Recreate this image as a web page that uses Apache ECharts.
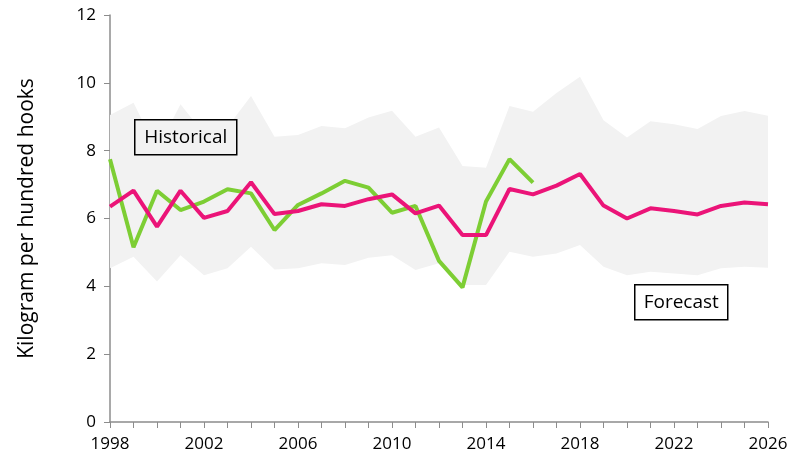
<!DOCTYPE html>
<html>
<head>
<meta charset="utf-8">
<script src="https://cdn.jsdelivr.net/npm/echarts@6/dist/echarts.min.js"></script>
<style>
  html, body { margin: 0; padding: 0; background: #fff; }
  #chart { width: 809px; height: 467px; }
</style>
</head>
<body>
<div id="chart"></div>
<script>
// years 1998..2026
const years = [];
for (let y = 1998; y <= 2026; y++) years.push(String(y));

// historical CPUE (1998-2016)
const historical = [7.75, 5.15, 6.82, 6.25, 6.5, 6.86, 6.74, 5.66, 6.4, 6.74,
  7.11, 6.91, 6.17, 6.37, 4.75, 3.97, 6.5, 7.75, 7.06];

// model / forecast line (1998-2026)
const forecast = [6.35, 6.82, 5.76, 6.82, 6.02, 6.22, 7.07, 6.13, 6.22, 6.42,
  6.37, 6.57, 6.71, 6.15, 6.38, 5.51, 5.51, 6.87, 6.71, 6.97,
  7.31, 6.38, 6.0, 6.3, 6.22, 6.12, 6.37, 6.47, 6.42];

// uncertainty band
const bandLower = [4.53, 4.87, 4.14, 4.92, 4.33, 4.53, 5.17, 4.5, 4.53, 4.68,
  4.63, 4.84, 4.92, 4.48, 4.68, 4.04, 4.04, 5.02, 4.87, 4.97,
  5.22, 4.58, 4.33, 4.43, 4.38, 4.33, 4.53, 4.58, 4.55];
const bandUpper = [9.05, 9.41, 8.02, 9.37, 8.5, 8.7, 9.61, 8.41, 8.46, 8.73,
  8.66, 8.98, 9.18, 8.41, 8.68, 7.55, 7.5, 9.32, 9.15, 9.7,
  10.18, 8.9, 8.39, 8.87, 8.78, 8.64, 9.02, 9.17, 9.03];

const yTicks = [0, 2, 4, 6, 8, 10, 12];

const font = '"Open Sans", "Noto Sans", sans-serif';
const axisGrey = '#8c8c8c';

const chart = echarts.init(document.getElementById('chart'));
chart.setOption({
  animation: false,
  grid: { left: 110, right: 41, top: 15, bottom: 45 },
  xAxis: {
    type: 'category',
    data: years,
    boundaryGap: false,
    axisLine: { lineStyle: { color: axisGrey, width: 1.5 } },
    axisTick: { show: true, interval: 0, length: 6, lineStyle: { color: axisGrey } },
    axisLabel: { interval: 3, color: '#000', fontFamily: font, fontSize: 17, margin: 14 },
    splitLine: { show: false }
  },
  yAxis: {
    type: 'value',
    min: yTicks[0],
    max: yTicks[yTicks.length - 1],
    interval: 2,
    name: 'Kilogram per hundred hooks',
    nameLocation: 'middle',
    nameGap: 72,
    nameTextStyle: { color: '#000', fontFamily: font, fontSize: 21 },
    axisLine: { show: true, lineStyle: { color: axisGrey, width: 1.5 } },
    axisTick: { show: true, length: 6, lineStyle: { color: axisGrey } },
    axisLabel: { color: '#000', fontFamily: font, fontSize: 17, margin: 14 },
    splitLine: { show: false }
  },
  series: [
    {
      name: 'bandBase',
      type: 'line',
      stack: 'band',
      data: bandLower,
      symbol: 'none',
      lineStyle: { opacity: 0 },
      silent: true
    },
    {
      name: 'band',
      type: 'line',
      stack: 'band',
      data: bandUpper.map((v, i) => +(v - bandLower[i]).toFixed(2)),
      symbol: 'none',
      lineStyle: { opacity: 0 },
      areaStyle: { color: '#f2f2f2', opacity: 1 },
      silent: true
    },
    {
      name: 'Historical',
      type: 'line',
      data: historical,
      symbol: 'none',
      lineStyle: { color: '#7dce34', width: 4 },
      z: 3
    },
    {
      name: 'Forecast',
      type: 'line',
      data: forecast,
      symbol: 'none',
      lineStyle: { color: '#eb1478', width: 4 },
      z: 4
    }
  ],
  graphic: [
    {
      type: 'group', left: 134, top: 119, z: 100,
      children: [
        { type: 'rect', z: 100, shape: { x: 0, y: 0, width: 102, height: 35 },
          style: { fill: '#f2f2f2', stroke: '#000', lineWidth: 1.5 } },
        { type: 'text', z: 101, x: 51, y: 18,
          style: { text: 'Historical', fill: '#000', font: '19px ' + font, align: 'center', verticalAlign: 'middle' } }
      ]
    },
    {
      type: 'group', left: 634, top: 284, z: 100,
      children: [
        { type: 'rect', z: 100, shape: { x: 0, y: 0, width: 93, height: 35 },
          style: { fill: '#fff', stroke: '#000', lineWidth: 1.5 } },
        { type: 'text', z: 101, x: 46.5, y: 18,
          style: { text: 'Forecast', fill: '#000', font: '19px ' + font, align: 'center', verticalAlign: 'middle' } }
      ]
    }
  ]
});
</script>
</body>
</html>
